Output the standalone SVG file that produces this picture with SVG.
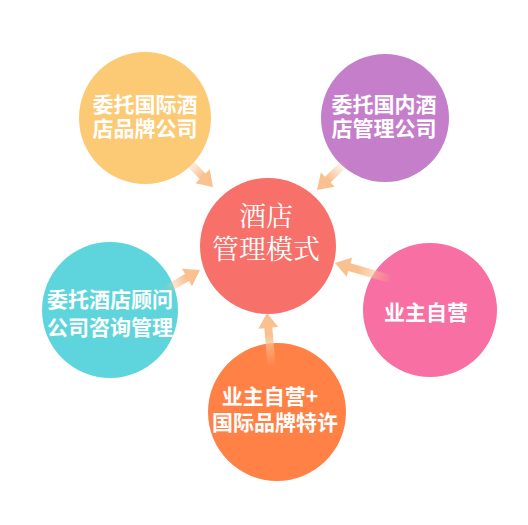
<svg xmlns="http://www.w3.org/2000/svg" width="528" height="525" viewBox="0 0 528 525">
<defs>
<linearGradient id="ag" x1="0" y1="0" x2="1" y2="0">
<stop offset="0" stop-color="#F9C18F" stop-opacity="0"/>
<stop offset="0.6" stop-color="#F9C18F" stop-opacity="1"/>
<stop offset="1" stop-color="#F9C18F" stop-opacity="1"/>
</linearGradient>
</defs>
<style>
text{font-family:"Noto Sans CJK SC","Noto Sans",sans-serif;fill:#fff;text-anchor:middle;font-weight:700}
.c{font-family:"Noto Serif CJK SC","Noto Sans CJK SC",serif;font-size:27px;font-weight:400}
.s{font-size:21px}
.a{fill:url(#ag)}
</style>
<rect width="528" height="525" fill="#fff"/>
<g id="n-tl"><circle cx="145" cy="118" r="66" fill="#FCC975"/><text class="s" x="145" y="112">委托国际酒</text><text class="s" x="145" y="136">店品牌公司</text></g>
<g id="n-tr"><circle cx="385" cy="118" r="64" fill="#C57EC9"/><text class="s" x="384" y="112">委托国内酒</text><text class="s" x="384" y="136">店管理公司</text></g>
<g id="n-l"><circle cx="110" cy="310" r="68" fill="#5ED5DC"/><text class="s" x="110" y="307">委托酒店顾问</text><text class="s" x="110" y="335">公司咨询管理</text></g>
<g id="n-r"><circle cx="430" cy="310" r="67" fill="#F76FA3"/><text class="s" x="426" y="320">业主自营</text></g>
<g id="n-b"><circle cx="277" cy="412" r="69" fill="#FF8146"/><text class="s" x="270" y="404">业主自营+</text><text class="s" x="275" y="430">国际品牌特许</text></g>
<g id="n-c"><circle cx="268" cy="246" r="68" fill="#F7706A"/><text class="c" x="266" y="226">酒店</text><text class="c" x="266" y="259">管理模式</text></g>
<g id="connectors">
<path class="a" transform="translate(213,187) rotate(46)" d="M-37,-4 L-15,-4 L-15,-10 L0,0 L-15,10 L-15,4 L-37,4 Z"/>
<path class="a" transform="translate(317,190) rotate(136)" d="M-39,-4 L-15,-4 L-15,-10 L0,0 L-15,10 L-15,4 L-39,4 Z"/>
<path class="a" transform="translate(200,270) rotate(-30)" d="M-40,-4 L-15,-4 L-15,-10 L0,0 L-15,10 L-15,4 L-40,4 Z"/>
<path class="a" transform="translate(335,263) rotate(196)" d="M-60,-4 L-15,-4 L-15,-10 L0,0 L-15,10 L-15,4 L-60,4 Z"/>
<path class="a" transform="translate(267,313) rotate(-95)" d="M-54,-4 L-15,-4 L-15,-10 L0,0 L-15,10 L-15,4 L-54,4 Z"/>
</g>
</svg>
